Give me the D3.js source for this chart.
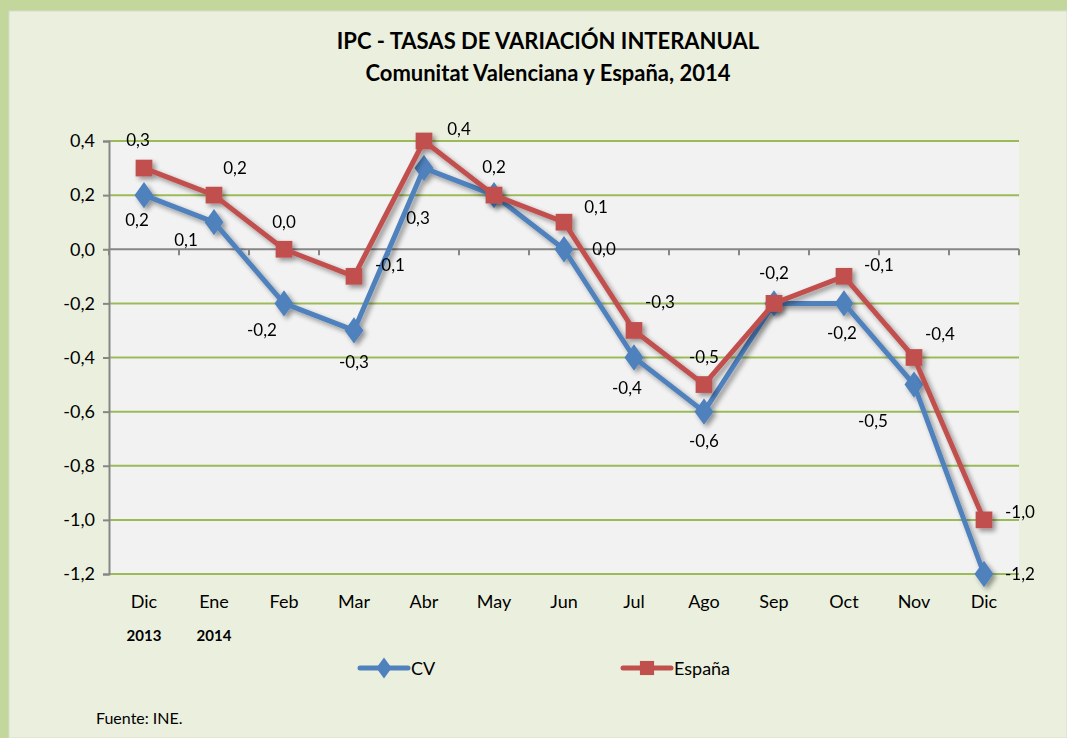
<html>
<head>
<meta charset="utf-8">
<title>IPC</title>
<script src="https://cdn.jsdelivr.net/npm/d3@7/dist/d3.min.js"></script>
<style>
  body { margin:0; background:#c3d69b; }
  text { font-family: Lato, "Open Sans", sans-serif; fill:#000; }
</style>
</head>
<body>
<script>
// datos
var meses = ["Dic","Ene","Feb","Mar","Abr","May","Jun","Jul","Ago","Sep","Oct","Nov","Dic"];
var anios = ["2013","2014","","","","","","","","","","",""];
var cv     = [0.2, 0.1, -0.2, -0.3, 0.3, 0.2, 0.0, -0.4, -0.6, -0.2, -0.2, -0.5, -1.2];
var espana = [0.3, 0.2,  0.0, -0.1, 0.4, 0.2, 0.1, -0.3, -0.5, -0.2, -0.1, -0.4, -1.0];
var yTicks = [0.4, 0.2, 0.0, -0.2, -0.4, -0.6, -0.8, -1.0, -1.2];
// etiquetas: desplazamiento de cada rotulo respecto a su punto (como en excel)
var offCV = [[-7,25],[-28,18],[-22,27],[0,32],[-6,50],null,[40,0],[-7,30],[0,29],null,[-2,30],[-41,36],[36,0]];
var offES = [[-6,-28],[21,-27],[0,-27],[36,-11],[35,-12],[0,-28],[32,-15],[26,-28],[0,-28],[0,-30],[35,-11],[26,-24],[36,-8]];

var width = 1067, height = 738;
var svg = d3.select("body").append("svg").attr("width", width).attr("height", height);

svg.append("rect").attr("x",0).attr("y",0).attr("width",width).attr("height",height).attr("fill","#c3d69b");
svg.append("rect").attr("x",9).attr("y",11).attr("width",width-9).attr("height",height-11)
   .attr("fill","#ebf0de").attr("stroke","#d6dccb").attr("stroke-width",1);

var pLeft = 109, pRight = 1019, pTop = 141, pBottom = 574;
var x = d3.scaleBand().domain(d3.range(meses.length)).range([pLeft, pRight]);
var y = d3.scaleLinear().domain([-1.2, 0.4]).range([pBottom, pTop]);
var fmt = function(v){ return d3.format(".1f")(v).replace(".", ",").replace("−","-"); };

// titulo
svg.append("text").attr("x",548).attr("y",49).attr("text-anchor","middle")
   .style("font-size","22px").style("font-weight","bold").text("IPC - TASAS DE VARIACIÓN INTERANUAL");
svg.append("text").attr("x",548).attr("y",81).attr("text-anchor","middle")
   .style("font-size","22px").style("font-weight","bold").text("Comunitat Valenciana y España, 2014");

// area de trazado
svg.append("rect").attr("x",pLeft).attr("y",pTop).attr("width",pRight-pLeft).attr("height",pBottom-pTop).attr("fill","#f2f2f2");

svg.selectAll(".grid").data(yTicks).enter().append("line")
   .attr("x1",pLeft).attr("x2",pRight)
   .attr("y1",function(d){ return y(d); }).attr("y2",function(d){ return y(d); })
   .attr("stroke", function(d){ return d === 0 ? "#868686" : "#9bbb59"; })
   .attr("stroke-width", 2);

// eje y
var yAxis = svg.append("g").attr("transform","translate("+pLeft+",0)")
   .call(d3.axisLeft(y).tickValues(yTicks).tickSize(6).tickPadding(8).tickFormat(fmt));
yAxis.select(".domain").attr("stroke","#868686").attr("stroke-width",2);
yAxis.selectAll(".tick line").attr("stroke","#868686").attr("stroke-width",2);
yAxis.selectAll("text").style("font-size","18px").style("font-family","Lato, sans-serif").attr("fill","#000");

// marcas del eje x sobre el cero
svg.selectAll(".xt").data(d3.range(meses.length + 1)).enter().append("line")
   .attr("x1",function(i){ return pLeft + i * x.bandwidth(); })
   .attr("x2",function(i){ return pLeft + i * x.bandwidth(); })
   .attr("y1",y(0)).attr("y2",y(0)+6)
   .attr("stroke","#868686").attr("stroke-width",2);

// rotulos x
svg.selectAll(".mes").data(meses).enter().append("text")
   .attr("x",function(d,i){ return x(i) + x.bandwidth()/2; }).attr("y",608)
   .attr("text-anchor","middle").style("font-size","18px").text(function(d){ return d; });
svg.selectAll(".anio").data(anios).enter().append("text")
   .attr("x",function(d,i){ return x(i) + x.bandwidth()/2; }).attr("y",641)
   .attr("text-anchor","middle").style("font-size","15px").style("font-weight","bold").text(function(d){ return d; });

// sombra
var defs = svg.append("defs");
var f = defs.append("filter").attr("id","sombra").attr("x","-10%").attr("y","-10%").attr("width","130%").attr("height","130%");
f.append("feGaussianBlur").attr("in","SourceAlpha").attr("stdDeviation",2.5);
f.append("feOffset").attr("dx",3).attr("dy",3).attr("result","b");
f.append("feComponentTransfer").append("feFuncA").attr("type","linear").attr("slope",0.4);
var m = f.append("feMerge"); m.append("feMergeNode"); m.append("feMergeNode").attr("in","SourceGraphic");

var cx = function(d,i){ return x(i) + x.bandwidth()/2; };
var line = d3.line().x(cx).y(function(d){ return y(d); });

function serie(datos, color, tipo){
  var g = svg.append("g").attr("filter","url(#sombra)");
  g.append("path").datum(datos).attr("d",line).attr("fill","none")
   .attr("stroke",color).attr("stroke-width",5).attr("stroke-linejoin","round");
  g.selectAll("path.m").data(datos).enter().append("path").attr("class","m")
   .attr("d", d3.symbol().type(tipo).size(tipo === d3.symbolSquare ? 280 : 200))
   .attr("transform",function(d,i){ return "translate("+cx(d,i)+","+y(d)+")"+(tipo===d3.symbolDiamond?" scale(1.25,1)":""); })
   .attr("fill",color);
}
serie(cv, "#4f81bd", d3.symbolDiamond);
serie(espana, "#c0504d", d3.symbolSquare);

// rotulos de datos
[[cv, offCV],[espana, offES]].forEach(function(p){
  p[0].forEach(function(v,i){
    if(!p[1][i]) return;
    svg.append("text").attr("x", cx(v,i) + p[1][i][0]).attr("y", y(v) + p[1][i][1] + 6)
       .attr("text-anchor","middle").style("font-size","17px").text(fmt(v));
  });
});

// leyenda
var ley = [{n:"CV", c:"#4f81bd", t:d3.symbolDiamond, x:360},{n:"España", c:"#c0504d", t:d3.symbolSquare, x:623}];
ley.forEach(function(l){
  var g = svg.append("g").attr("transform","translate("+l.x+",668)");
  g.append("line").attr("x1",0).attr("x2",48).attr("stroke",l.c).attr("stroke-width",5).attr("stroke-linecap","round");
  g.append("path").attr("d",d3.symbol().type(l.t).size(l.t===d3.symbolSquare?200:130))
   .attr("transform","translate(24,0)"+(l.t===d3.symbolDiamond?" scale(1.25,1)":"")).attr("fill",l.c);
  g.append("text").attr("x",51).attr("y",7).style("font-size","18px").text(l.n);
});

svg.append("text").attr("x",96).attr("y",724).style("font-size","16px").text("Fuente: INE.");
</script>
</body>
</html>
